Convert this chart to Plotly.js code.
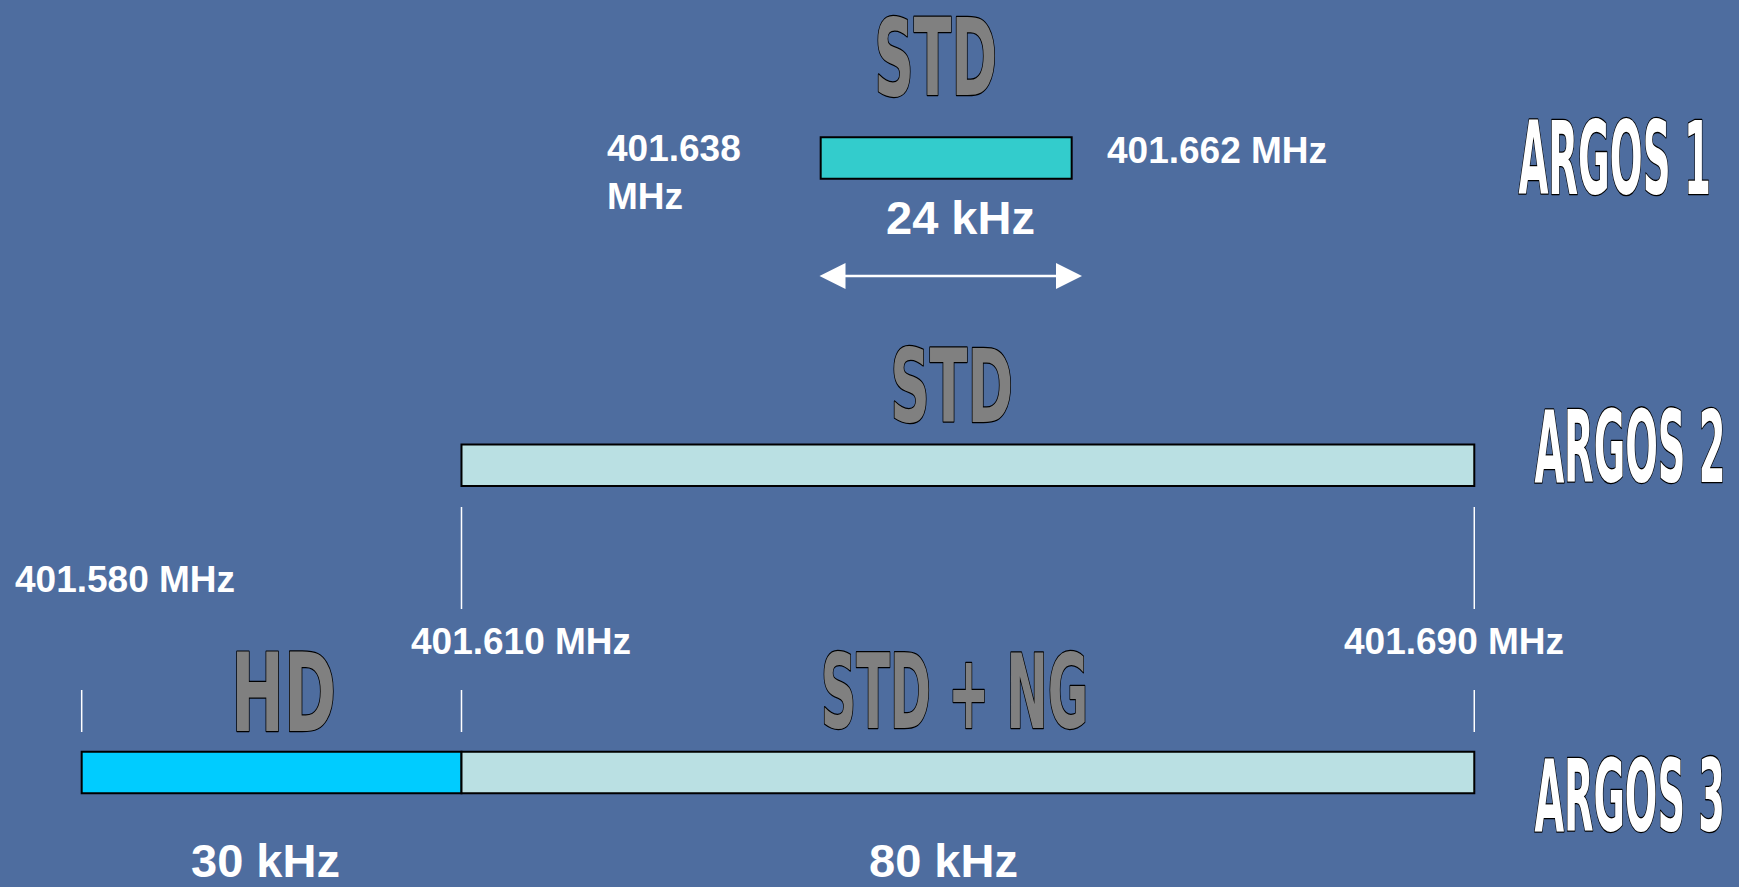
<!DOCTYPE html>
<html>
<head>
<meta charset="utf-8">
<script src="https://cdn.plot.ly/plotly-3.0.1.min.js"></script>
<style>
  html, body { margin: 0; padding: 0; background: #4E6D9F; }
  #chart { width: 1739px; height: 887px; }
</style>
</head>
<body>
<div id="chart"></div>
<script>
// ---------------- DATA ----------------
const rows = ['ARGOS 1', 'ARGOS 2', 'ARGOS 3'];
const bandRow = ['ARGOS 1', 'ARGOS 2', 'ARGOS 3', 'ARGOS 3'];
const bandName = ['STD', 'STD', 'HD', 'STD + NG'];
const bandStartMHz = [401.638, 401.610, 401.580, 401.610];
const bandEndMHz = [401.662, 401.690, 401.610, 401.690];
const bandWidthKHz = [24, 80, 30, 80];
const argos1EdgeLabels = ['401.638<br>MHz', '401.662 MHz'];
const argos3EdgeLabels = ['401.580 MHz', '401.610 MHz', '401.690 MHz'];

// ---------------- STYLE ----------------
const W = 1739, H = 887;
const BG = '#4E6D9F';
const bandColors = ['#33CCCC', '#BAE0E3', '#00CCFF', '#BAE0E3'];
const LABEL_FONT = '"Liberation Sans", Arial, sans-serif';
const ART_FONT = '"Liberation Sans Narrow", "DejaVu Sans Condensed", "Arial Narrow", sans-serif';
const px = x => x / W;
const py = y => 1 - y / H;

// main axis (ARGOS 2 / 3) and schematic axis for ARGOS 1
const xRange = [401.573547, 401.710910];
const x2Range = [401.559525, 401.725810];
const yRange = [2.3727, -0.5142];

const traces = bandName.map((name, i) => ({
  type: 'bar',
  orientation: 'h',
  y: [bandRow[i]],
  base: [bandStartMHz[i]],
  x: [bandEndMHz[i] - bandStartMHz[i]],
  width: 0.135,
  xaxis: i === 0 ? 'x2' : 'x',
  yaxis: 'y',
  name: name,
  marker: { color: bandColors[i], opacity: 1, line: { color: '#000000', width: 2 } },
  hoverinfo: 'skip',
  showlegend: false
}));

// boundary ticks
const shapes = [];
const tickLine = (f, y0, y1) => ({
  type: 'line', xref: 'x', yref: 'paper', x0: f, x1: f, y0: py(y0), y1: py(y1),
  line: { color: '#FFFFFF', width: 1.5 }
});
[bandStartMHz[1], bandEndMHz[1]].forEach(f => shapes.push(tickLine(f, 507, 609)));
[bandStartMHz[2], bandStartMHz[3], bandEndMHz[3]].forEach(f => shapes.push(tickLine(f, 690, 732)));

const annotations = [];
const label = (text, x, y, size, anchor) => annotations.push({
  text: text, xref: 'paper', yref: 'paper', x: px(x), y: py(y),
  xanchor: anchor || 'center', yanchor: 'middle', align: 'left', showarrow: false,
  font: { family: LABEL_FONT, size: size, color: '#FFFFFF', weight: 'bold' }
});
label(argos1EdgeLabels[0], 605, 172.5, 37, 'left');
label(argos1EdgeLabels[1], 1105, 150, 37, 'left');
label(argos3EdgeLabels[0], 13, 579, 37, 'left');
label(argos3EdgeLabels[1], 409, 641, 37, 'left');
label(argos3EdgeLabels[2], 1342, 641, 37, 'left');
label(bandWidthKHz[0] + ' kHz', 960, 218, 47);
label(bandWidthKHz[2] + ' kHz', 265, 860, 47);
label(bandWidthKHz[3] + ' kHz', 943, 860, 47);

// arrow for the 24 kHz span
annotations.push({
  text: '', xref: 'x2', axref: 'x2', x: 401.662986, ax: 401.637743,
  yref: 'paper', ayref: 'pixel', y: py(276), ay: 0,
  showarrow: true, arrowside: 'end+start', arrowhead: 2, arrowsize: 2,
  arrowwidth: 2.6, arrowcolor: '#FFFFFF', standoff: 0, startstandoff: 0
});

// "word-art" style labels: fitted to target ink boxes after render
const artSpecs = {};
const art = (text, x, y, w, h, fill) => {
  artSpecs[annotations.length] = { text, w, h, fill };
  annotations.push({
    text: text, xref: 'paper', yref: 'paper', x: px(x), y: py(y),
    xanchor: 'center', yanchor: 'middle', showarrow: false,
    font: { family: ART_FONT, size: 60, color: fill, weight: 'bold' }
  });
};
art(bandName[0], 937, 56, 120, 84, '#808080');
art(bandName[1], 952, 385, 120, 80, '#808080');
art(bandName[2], 285, 690, 100, 84, '#808080');
art(bandName[3], 954, 690, 264, 81, '#808080');
art(rows[0], 1613, 157, 192, 80, '#FFFFFF');
art(rows[1], 1628, 445, 190, 79, '#FFFFFF');
art(rows[2], 1628, 795, 190, 78, '#FFFFFF');

const layout = {
  width: W, height: H,
  margin: { l: 0, r: 0, t: 0, b: 0, pad: 0 },
  paper_bgcolor: BG, plot_bgcolor: BG,
  barmode: 'overlay',
  showlegend: false,
  xaxis: { range: xRange, visible: false, fixedrange: true },
  xaxis2: { range: x2Range, visible: false, overlaying: 'x', anchor: 'y', fixedrange: true },
  yaxis: { type: 'category', categoryarray: rows, range: yRange, visible: false, fixedrange: true },
  shapes: shapes,
  annotations: annotations
};

Plotly.newPlot('chart', traces, layout, { staticPlot: true, displayModeBar: false }).then(gd => {
  const ctx = document.createElement('canvas').getContext('2d');
  ctx.font = 'bold 60px ' + ART_FONT;
  gd.querySelectorAll('g.annotation').forEach(g => {
    const idx = +g.getAttribute('data-index');
    const spec = artSpecs[idx];
    if (!spec) return;
    const t = g.querySelector('text.annotation-text');
    if (!t) return;
    const bb = t.getBBox();
    const m = ctx.measureText(spec.text);
    const inkW = m.actualBoundingBoxLeft + m.actualBoundingBoxRight;
    const inkH = m.actualBoundingBoxAscent + m.actualBoundingBoxDescent;
    const fAsc = m.fontBoundingBoxAscent;
    const baseline = bb.y + fAsc;
    const cxi = bb.x + (m.actualBoundingBoxRight - m.actualBoundingBoxLeft) / 2;
    const cyi = baseline - (m.actualBoundingBoxAscent - m.actualBoundingBoxDescent) / 2;
    const cxb = bb.x + bb.width / 2, cyb = bb.y + bb.height / 2;
    const sx = (spec.w - 2) / inkW, sy = (spec.h - 2) / inkH;
    const prev = t.getAttribute('transform') || '';
    t.setAttribute('transform', prev + ` translate(${cxb} ${cyb}) scale(${sx} ${sy}) translate(${-cxi} ${-cyi})`);
    t.style.stroke = '#000000';
    t.style.strokeWidth = '2px';
    t.style.paintOrder = 'stroke';
    t.style.strokeLinejoin = 'round';
    t.setAttribute('vector-effect', 'non-scaling-stroke');
  });
});
</script>
</body>
</html>
